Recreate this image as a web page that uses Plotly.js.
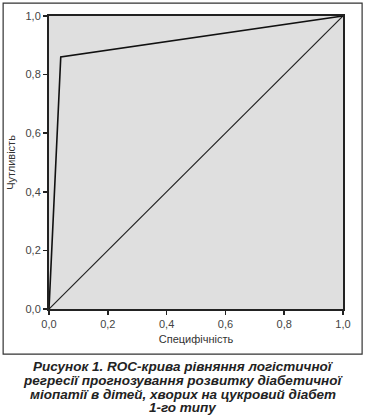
<!DOCTYPE html>
<html><head><meta charset="utf-8">
<script src="https://cdn.plot.ly/plotly-3.0.1.min.js"></script>
<style>body{margin:0;background:#fff}#c{width:367px;height:420px}</style>
</head><body><div id="c"></div>
<script>
const rocX = [0, 0.04, 1];
const rocY = [0, 0.86, 1];
const refX = [0, 1];
const refY = [0, 1];
const tickVals = [0, 0.2, 0.4, 0.6, 0.8, 1.0];
const xTitle = 'Специфічність';
const yTitle = 'Чутливість';
const captionLines = [
  'Рисунок 1. ROC-крива рівняння логістичної',
  'регресії прогнозування розвитку діабетичної',
  'міопатії в дітей, хворих на цукровий діабет',
  '1-го типу'
];

const axisCommon = {
  range: [0, 1], tickvals: tickVals, tickformat: '.1f',
  showgrid: false, zeroline: false, showline: true, linecolor: '#222', linewidth: 2, mirror: true,
  ticks: 'outside', ticklen: 4, tickwidth: 1.5, tickcolor: '#222',
  tickfont: {family: 'Liberation Sans, Arial', size: 11, color: '#444'}, fixedrange: true
};
const data = [
  {x: refX, y: refY, mode: 'lines', line: {color: '#222', width: 1.2}, hoverinfo: 'skip'},
  {x: rocX, y: rocY, mode: 'lines', line: {color: '#111', width: 1.6}, hoverinfo: 'skip'}
];
const linePx = [366, 380, 394, 407.5];
const annotations = captionLines.map((t, i) => ({
  xref: 'paper', yref: 'paper', x: 0.456, y: (309 - linePx[i]) / 293, xanchor: 'center', yanchor: 'middle',
  showarrow: false, text: '<b><i>' + t + '</i></b>',
  font: {family: 'Liberation Sans, Arial', size: 13.5, color: '#222'}
}));
const layout = {
  width: 367, height: 420, separators: ',.',
  margin: {l: 49, r: 24, t: 16, b: 111},
  paper_bgcolor: '#fff', plot_bgcolor: '#dfdfdf', showlegend: false,
  xaxis: Object.assign({}, axisCommon, {title: {text: xTitle, standoff: 6, font: {family: 'Liberation Sans, Arial', size: 11, color: '#333'}}}),
  yaxis: Object.assign({}, axisCommon, {title: {text: yTitle, standoff: 8, font: {family: 'Liberation Sans, Arial', size: 11, color: '#333'}}}),
  shapes: [{type: 'rect', xref: 'paper', yref: 'paper', x0: -0.156, x1: 1.065, y0: -0.154, y1: 1.044, line: {color: '#333', width: 1.2}}],
  annotations: annotations
};
Plotly.newPlot('c', data, layout, {displayModeBar: false, staticPlot: true});
</script></body></html>
